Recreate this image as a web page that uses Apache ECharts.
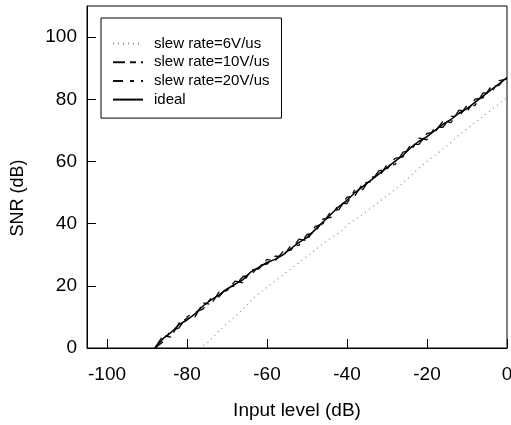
<!DOCTYPE html>
<html>
<head>
<meta charset="utf-8">
<script src="https://cdn.jsdelivr.net/npm/echarts@6/dist/echarts.min.js"></script>
<style>
  html, body { margin: 0; padding: 0; background: #fff; }
  #chart { width: 511px; height: 425px; }
</style>
</head>
<body>
<div id="chart"></div>
<script>
(function (window, document) {
    "use strict";

    // ---- data ----
    const inputLevels = [-88, -86, -84, -82, -80, -78, -76, -74, -72, -70, -68, -66, -64, -62, -60,
        -58, -56, -54, -52, -50, -48, -46, -44, -42, -40, -38, -36, -34, -32, -30,
        -28, -26, -24, -22, -20, -18, -16, -14, -12, -10, -8, -6, -4, -2, 0];
    const snrIdeal = [0, 3, 5, 7.5, 9, 11, 13.5, 15.5, 17, 19, 20.5, 22, 24.5, 26, 27.5,
        28.5, 30, 32, 34, 35.5, 38, 40.5, 43, 45.5, 47.5, 50, 52, 54, 56, 58,
        60, 62, 64.5, 66.5, 68, 70, 72, 73.5, 75.5, 77, 79, 81, 83, 85, 87];
    const snr10 = [0, 4, 3.5, 8, 9.5, 10, 14.5, 14, 18, 18.5, 21.5, 21, 25, 25.5, 28.5,
        28, 31, 31.5, 35, 34.5, 39, 40, 44, 44.5, 48.5, 49, 53, 53.5, 57, 57.5,
        61, 61.5, 65.5, 65.5, 69, 69.5, 73, 72.5, 76.5, 76, 80, 80.5, 84, 84.5, 87.5];
    const snr20 = [0, 2, 5.5, 6.5, 10, 11.5, 12.5, 16, 16.5, 19.5, 20, 23, 23.5, 26.5, 27,
        29.5, 29.5, 33, 33, 36.5, 37, 41.5, 42, 46.5, 46.5, 51, 51, 55, 55, 59,
        59, 63, 63.5, 67.5, 67, 71, 71, 74.5, 74.5, 78, 78, 82, 82, 86, 86.5];
    const inputLevels6 = [-77, -75, -72, -69, -66, -63, -60, -57, -54, -51, -48, -45, -42, -39,
        -36, -33, -30, -27, -24, -21, -18, -15, -12, -9, -6, -3, 0];
    const snr6 = [0, 1.5, 5.5, 9, 12.5, 16.5, 19.5, 22.5, 25.5, 28.5, 31.5, 34.5, 37, 40.5,
        43, 46, 49, 52, 55.5, 59, 62, 65, 68.5, 71.5, 74.5, 77.5, 80.5];

    const FONT = "'Liberation Sans', Arial, sans-serif";
    const pairs = (xs, ys) => xs.map((x, i) => [x, ys[i]]);

    function lineSeries(name, xs, ys, color, type, width) {
        return {
            name, type: "line", data: pairs(xs, ys),
            symbol: "none", showSymbol: false,
            lineStyle: { color, type, width }, itemStyle: { color },
            silent: true, z: 3
        };
    }

    function axisBase() {
        return {
            type: "value",
            axisLine: { show: true, onZero: false, lineStyle: { color: "#000", width: 1 } },
            axisTick: { show: true, inside: true, length: 9, lineStyle: { color: "#000" } },
            splitLine: { show: false }
        };
    }

    const chart = echarts.init(document.getElementById("chart"), null, { renderer: "canvas" });
    chart.setOption({
        animation: false,
        backgroundColor: "#fff",
        grid: {
            left: 87, right: 4, top: 6, bottom: 77,
            show: true, borderColor: "#000", borderWidth: 1,
            outerBoundsMode: "none"
        },
        legend: {
            orient: "vertical", left: 101, top: 18,
            itemWidth: 30, itemHeight: 14, itemGap: 3.7,
            borderColor: "#000", borderWidth: 1,
            padding: [18, 12, 11, 11],
            itemStyle: { opacity: 0 },
            textStyle: { fontFamily: FONT, fontSize: 15, color: "#000", padding: [0, 0, 0, 6] },
            data: ["slew rate=6V/us", "slew rate=10V/us", "slew rate=20V/us", "ideal"]
        },
        xAxis: Object.assign(axisBase(), {
            min: -105, max: 0, splitNumber: 5,
            name: "Input level (dB)", nameLocation: "middle", nameGap: 53,
            nameTextStyle: { fontFamily: FONT, fontSize: 19, color: "#000" },
            axisLabel: { showMinLabel: false, margin: 17, fontFamily: FONT, fontSize: 19, color: "#000" }
        }),
        yAxis: Object.assign(axisBase(), {
            min: 0, max: 110, splitNumber: 5,
            name: "SNR (dB)", nameLocation: "middle", nameGap: 60, nameRotate: 90,
            nameTextStyle: { fontFamily: FONT, fontSize: 18, color: "#000", padding: [0, 42, 0, 0] },
            axisLabel: { showMaxLabel: false, margin: 10, fontFamily: FONT, fontSize: 19, color: "#000" }
        }),
        series: [
            lineSeries("slew rate=6V/us", inputLevels6, snr6, "#8a8a8a", [1, 4], 1.2),
            lineSeries("slew rate=10V/us", inputLevels, snr10, "#111", [12, 5, 6, 5], 1.4),
            lineSeries("slew rate=20V/us", inputLevels, snr20, "#111", [10, 7, 4, 7], 1.4),
            lineSeries("ideal", inputLevels, snrIdeal, "#000", "solid", 1.5)
        ]
    });
    window.addEventListener("resize", () => chart.resize());
})(window, document);
</script>
</body>
</html>
